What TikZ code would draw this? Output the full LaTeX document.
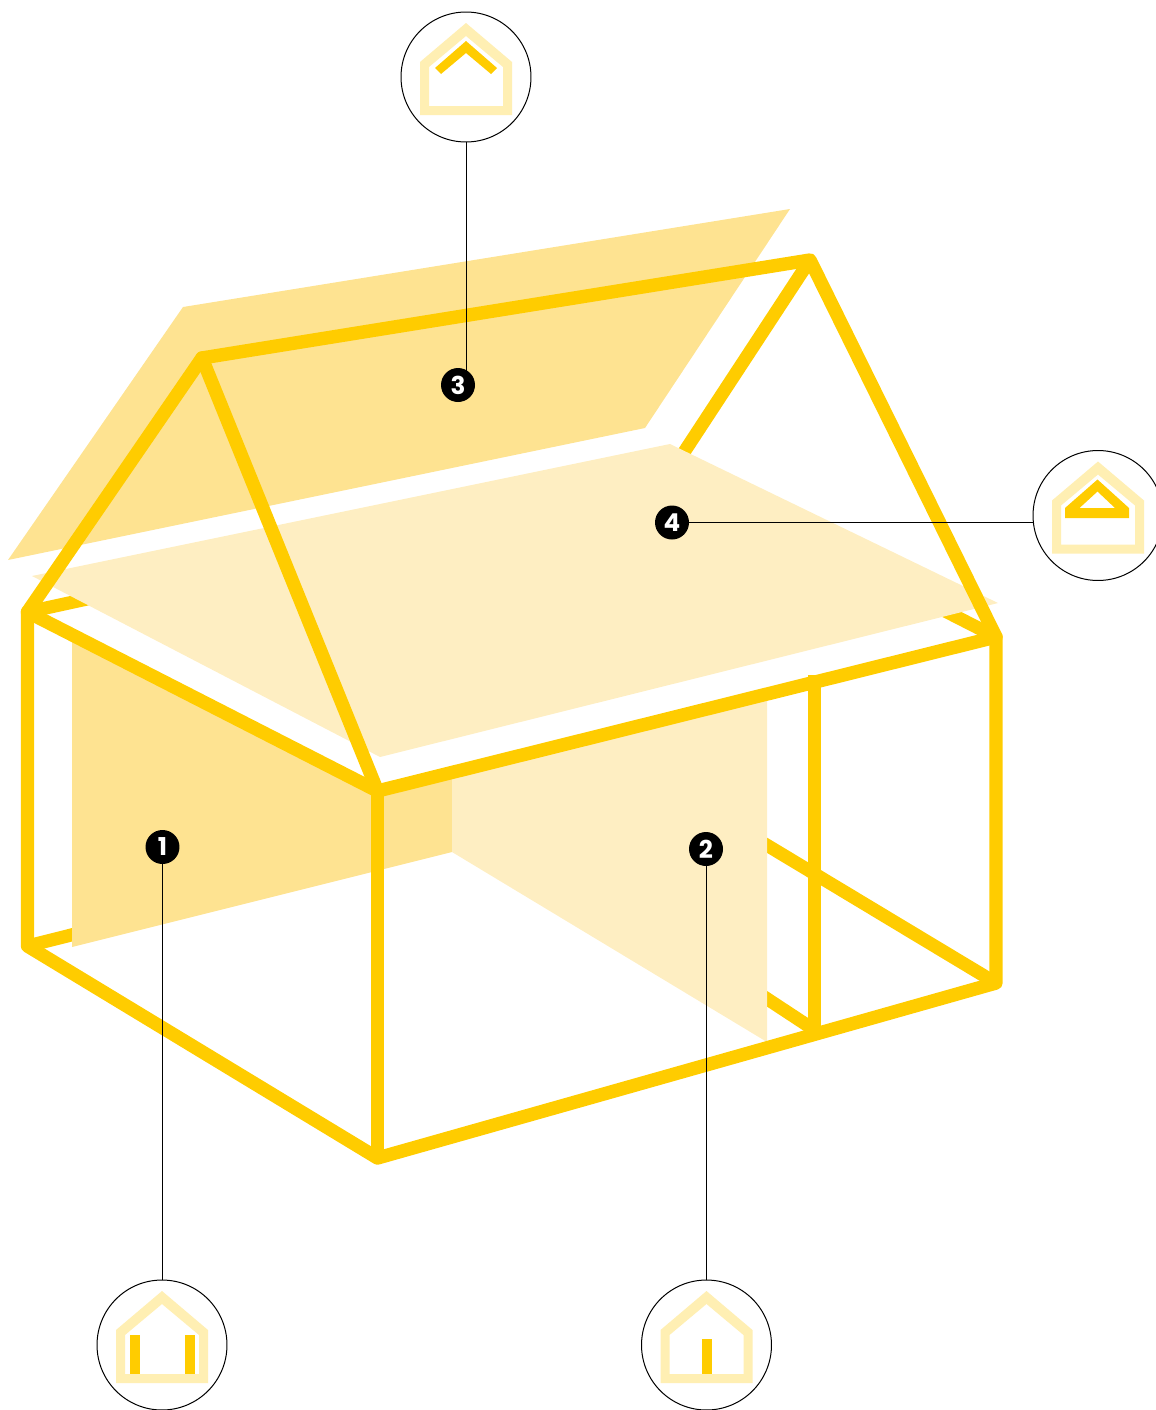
\documentclass[tikz,border=0pt]{standalone}
\usepackage{fontspec}
\newfontfamily\badgefont{Poppins}
\definecolor{gold}{HTML}{FFCC00}
\definecolor{paneldark}{HTML}{FEE391}
\definecolor{panellight}{HTML}{FEEEC2}
\definecolor{iconpale}{HTML}{FFEFB3}
\tikzset{
  framebar/.style={draw=gold,line width=0.268cm,line join=round,line cap=round},
  framecut/.style={draw=gold,line width=0.262cm,line cap=butt},
  ring/.style={circle,draw=black,line width=0.02cm,fill=white,minimum size=2.6cm,inner sep=0pt,outer sep=0pt},
  badge/.style={circle,fill=black,text=white,minimum size=0.68cm,inner sep=0pt,outer sep=0pt,font=\badgefont\bfseries\fontsize{14}{14}\selectfont},
  leader/.style={draw=black,line width=0.02cm},
  houseicon/.pic={
    \fill[iconpale,even odd rule] (0,-54)--(46,-15)--(46,38)--(-46,38)--(-46,-15)--cycle
      (0,-41)--(37,-10)--(37,29)--(-37,29)--(-37,-10)--cycle;
  }
}
\begin{document}
\begin{tikzpicture}[x=0.02cm,y=-0.02cm]
\useasboundingbox (0,0) rectangle (1156,1410);
% frame points
\coordinate (A) at (27.5,612);
\coordinate (B) at (377.5,791);
\coordinate (C) at (996,637);
\coordinate (D) at (810,260);
\coordinate (E) at (202,358);
\coordinate (F) at (27.5,946);
\coordinate (G) at (377.5,1158);
\coordinate (H) at (996,983);
\coordinate (postTop) at (814.5,675);
\coordinate (postFoot) at (814.5,1030);
\coordinate (backA) at (110,594);
\coordinate (backC) at (900,588);
\coordinate (backD) at (673,469);
\coordinate (backF) at (95,929);
\coordinate (backH) at (740,829);
\coordinate (backK) at (740,981);
% roof panel, back
\fill[paneldark] (183,307)--(790,209)--(645,428)--(8,560)--cycle;
% hidden frame lines
\draw[framecut] (D)--(backD);
\draw[framecut] (A)--(backA);
\draw[framecut] (C)--(backC);
\draw[framecut] (F)--(backF);
\draw[framecut] (H)--(backH);
\draw[framecut] (postFoot)--(backK);
% wall panels
\fill[paneldark] (72,630)--(378,785)--(452,770)--(452,852)--(72,947)--cycle;
\fill[panellight] (452,770)--(767,695)--(767,1042)--(452,852)--cycle;
% roof panel, front
\fill[panellight] (670,444)--(998,603)--(380,757)--(32,576)--cycle;
% front frame
\draw[framebar] (A)--(E)--(D)--(C)--(B)--cycle;
\draw[framebar] (E)--(B);
\draw[framebar] (A)--(F)--(G)--(H)--(C);
\draw[framecut] (B)--(G);
\draw[framecut] (postTop)--(postFoot);
% icons
\node[ring] (c1) at (162,1345) {};
\node[ring] (c2) at (706.5,1345) {};
\node[ring] (c3) at (466,77) {};
\node[ring] (c4) at (1098,515.5) {};
\pic at (c1) {houseicon};
\pic at (c2) {houseicon};
\pic at (c3) {houseicon};
\pic at (c4) {houseicon};
\fill[gold] (130,1335) rectangle (140,1374);
\fill[gold] (185,1335) rectangle (195,1374);
\fill[gold] (701.5,1339) rectangle (711.5,1374);
\fill[gold] (466,41)--(497,68)--(491,74)--(466,53)--(441,74)--(435,68)--cycle;
\fill[gold,even odd rule] (1097.5,479.5)--(1129,508)--(1129,518)--(1065,518)--(1065,508)--cycle
  (1097.5,491.5)--(1115,508)--(1079.5,508)--cycle;
% badges and leaders
\coordinate (b1at) at (162.5,847);
\coordinate (b2at) at (706,849);
\coordinate (b3at) at (458,385);
\coordinate (b4at) at (672,522.5);
\draw[leader] (c1.north)--(c1.north |- b1at);
\draw[leader] (c2.north)--(c2.north |- b2at);
\draw[leader] (c3.south)--(c3.south |- b3at);
\draw[leader] (c4.west |- b4at)--(b4at);
\node[badge] (b1) at (b1at) {1};
\node[badge] (b2) at (b2at) {2};
\node[badge] (b3) at (b3at) {3};
\node[badge] (b4) at (b4at) {4};
\end{tikzpicture}
\end{document}
